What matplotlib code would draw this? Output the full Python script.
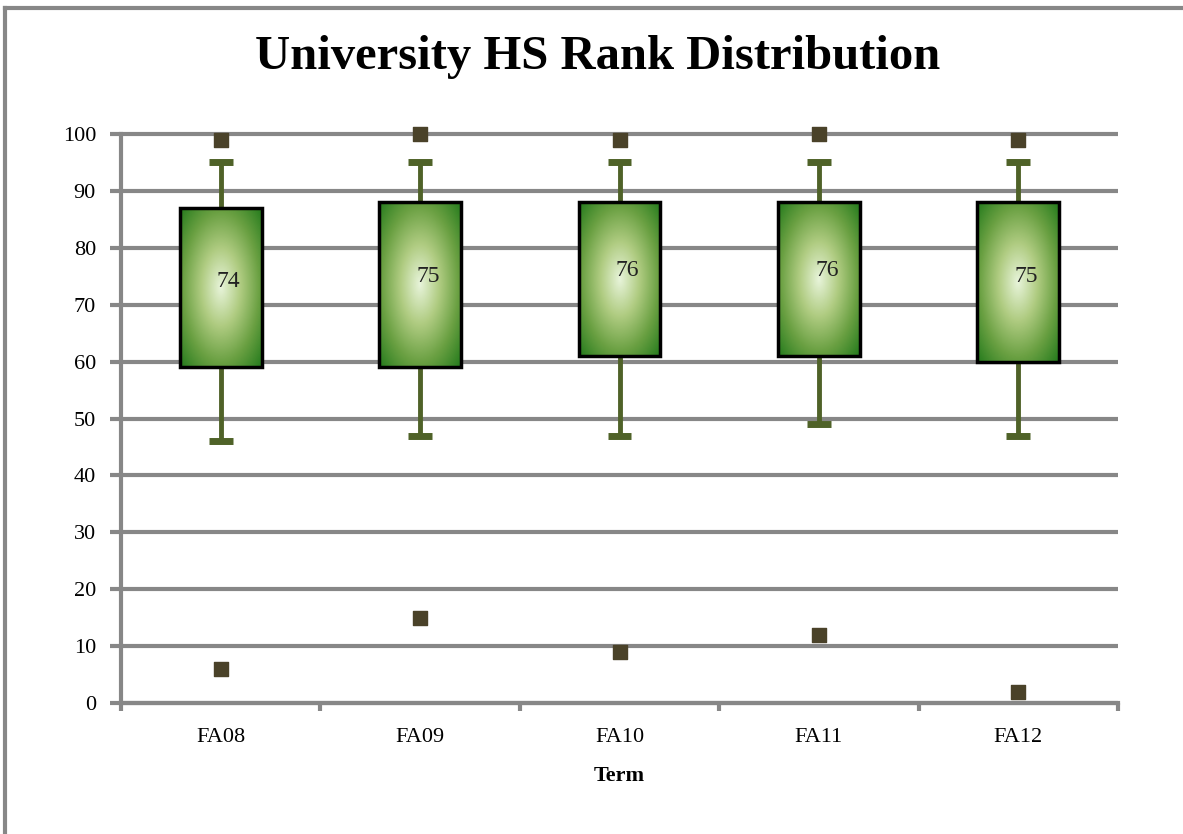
import numpy as np
import matplotlib.pyplot as plt
from matplotlib.colors import LinearSegmentedColormap
from matplotlib.patches import Rectangle

# box plot statistics
terms = ['FA08', 'FA09', 'FA10', 'FA11', 'FA12']
whisker_low = [46, 47, 47, 49, 47]
q1 = [59, 59, 61, 61, 60]
median = [74, 75, 76, 76, 75]
q3 = [87, 88, 88, 88, 88]
whisker_high = [95, 95, 95, 95, 95]
outlier_high = [99, 100, 99, 100, 99]
outlier_low = [6, 15, 9, 12, 2]

plt.rcParams['font.family'] = ['Liberation Serif', 'DejaVu Serif']

fig = plt.figure(figsize=(11.83, 8.34), dpi=100)
ax = fig.add_axes([121 / 1183, 1 - 703 / 834, (1118 - 121) / 1183, (703 - 134) / 834])

grid_col = '#878787'
whisk_col = '#4f6228'
dot_col = '#4a4229'
box_w = 0.41
cap_w = 0.12

# radial gradient for the boxes: light centre, dark green edge
cmap = LinearSegmentedColormap.from_list('g', ['#e6f3d8', '#b0cc82', '#6aa042', '#237a1c'])
gx, gy = np.meshgrid(np.linspace(-1, 1, 80), np.linspace(-1, 1, 160))
grad = np.sqrt(gx ** 2 + gy ** 2) / np.sqrt(2)

for i, t in enumerate(terms):
    x = i + 1
    # whiskers
    ax.plot([x, x], [whisker_low[i], q1[i]], color=whisk_col, lw=3.5, zorder=3)
    ax.plot([x, x], [q3[i], whisker_high[i]], color=whisk_col, lw=3.5, zorder=3)
    ax.plot([x - cap_w / 2, x + cap_w / 2], [whisker_low[i]] * 2, color=whisk_col, lw=5,
            solid_capstyle='butt', zorder=3)
    ax.plot([x - cap_w / 2, x + cap_w / 2], [whisker_high[i]] * 2, color=whisk_col, lw=5,
            solid_capstyle='butt', zorder=3)
    # box
    rect = Rectangle((x - box_w / 2, q1[i]), box_w, q3[i] - q1[i], facecolor='none',
                     edgecolor='black', lw=2.5, zorder=5)
    ax.add_patch(rect)
    img = ax.imshow(grad, cmap=cmap, extent=(x - box_w / 2, x + box_w / 2, q1[i], q3[i]),
                    aspect='auto', zorder=4, origin='lower')
    img.set_clip_path(rect)
    ax.text(x + 0.04, median[i], str(median[i]), ha='center', va='center', fontsize=17,
            color='#222222', zorder=6)

xs = np.arange(1, len(terms) + 1)
ax.scatter(xs, outlier_high, marker='s', s=105, color=dot_col, zorder=6, clip_on=False)
ax.scatter(xs, outlier_low, marker='s', s=105, color=dot_col, zorder=6, clip_on=False)

ax.set_xlim(0.5, len(terms) + 0.5)
ax.set_ylim(0, 100)
ax.set_yticks(range(0, 101, 10))
ax.set_xticks(xs)
ax.set_xticklabels(terms)
ax.set_xticks(np.arange(0.5, len(terms) + 1), minor=True)
ax.tick_params(axis='x', which='major', length=0, pad=18, labelsize=16)
ax.tick_params(axis='x', which='minor', length=6, width=3, color=grid_col)
ax.tick_params(axis='y', length=8, width=3, color=grid_col, pad=10, labelsize=16)
ax.grid(axis='y', color=grid_col, lw=3, zorder=1)
for gl in ax.get_ygridlines():
    gl.set_clip_on(False)
    gl.set_solid_capstyle('butt')
ax.set_axisbelow(True)
for s in ['top', 'right']:
    ax.spines[s].set_visible(False)
for s in ['left', 'bottom']:
    ax.spines[s].set_color(grid_col)
    ax.spines[s].set_linewidth(3)

ax.set_xlabel('Term', fontsize=16, fontweight='bold', labelpad=14)
fig.text(598 / 1183, 1 - 57 / 834, 'University HS Rank Distribution', ha='center', va='center',
         fontsize=35, fontweight='bold')

# chart area border (top and left only visible)
fig.add_artist(plt.Line2D([5 / 1183, 1], [1 - 8 / 834] * 2, color=grid_col, lw=3,
                          transform=fig.transFigure))
fig.add_artist(plt.Line2D([5 / 1183] * 2, [0, 1 - 8 / 834], color=grid_col, lw=3,
                          transform=fig.transFigure))

fig.savefig('out.png', dpi=100)
